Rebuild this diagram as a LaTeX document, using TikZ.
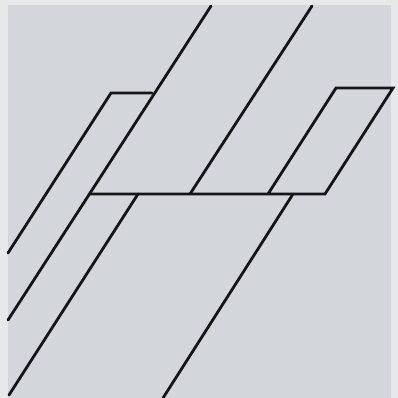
\documentclass[tikz,border=0pt]{standalone}
\definecolor{bgray}{HTML}{D3D6DA}
\definecolor{edgegray}{HTML}{E6E8EA}
\definecolor{ink}{HTML}{151515}
\begin{document}
\begin{tikzpicture}[x=1pt,y=-1pt,
  stroke/.style={draw=ink,line width=2.8pt,line cap=round,line join=miter}]
\fill[edgegray] (0,0) rectangle (398,398);
\fill[bgray] (8,5) rectangle (391,398);
\useasboundingbox (0,0) rectangle (398,398);
% long line 1
\draw[stroke] (211,6) -- (8,320);
% line 2
\draw[stroke] (312,6) -- (190,194);
% top-left parallelogram
\draw[stroke] (152,93) -- (111,93) -- (8,253);
% horizontal bar and right parallelogram
\draw[stroke] (89,194) -- (325,194) -- (393,88) -- (336,88) -- (268,194);
% lower lines
\draw[stroke] (138,194) -- (9,395);
\draw[stroke] (293,194) -- (163,398);
\end{tikzpicture}
\end{document}
